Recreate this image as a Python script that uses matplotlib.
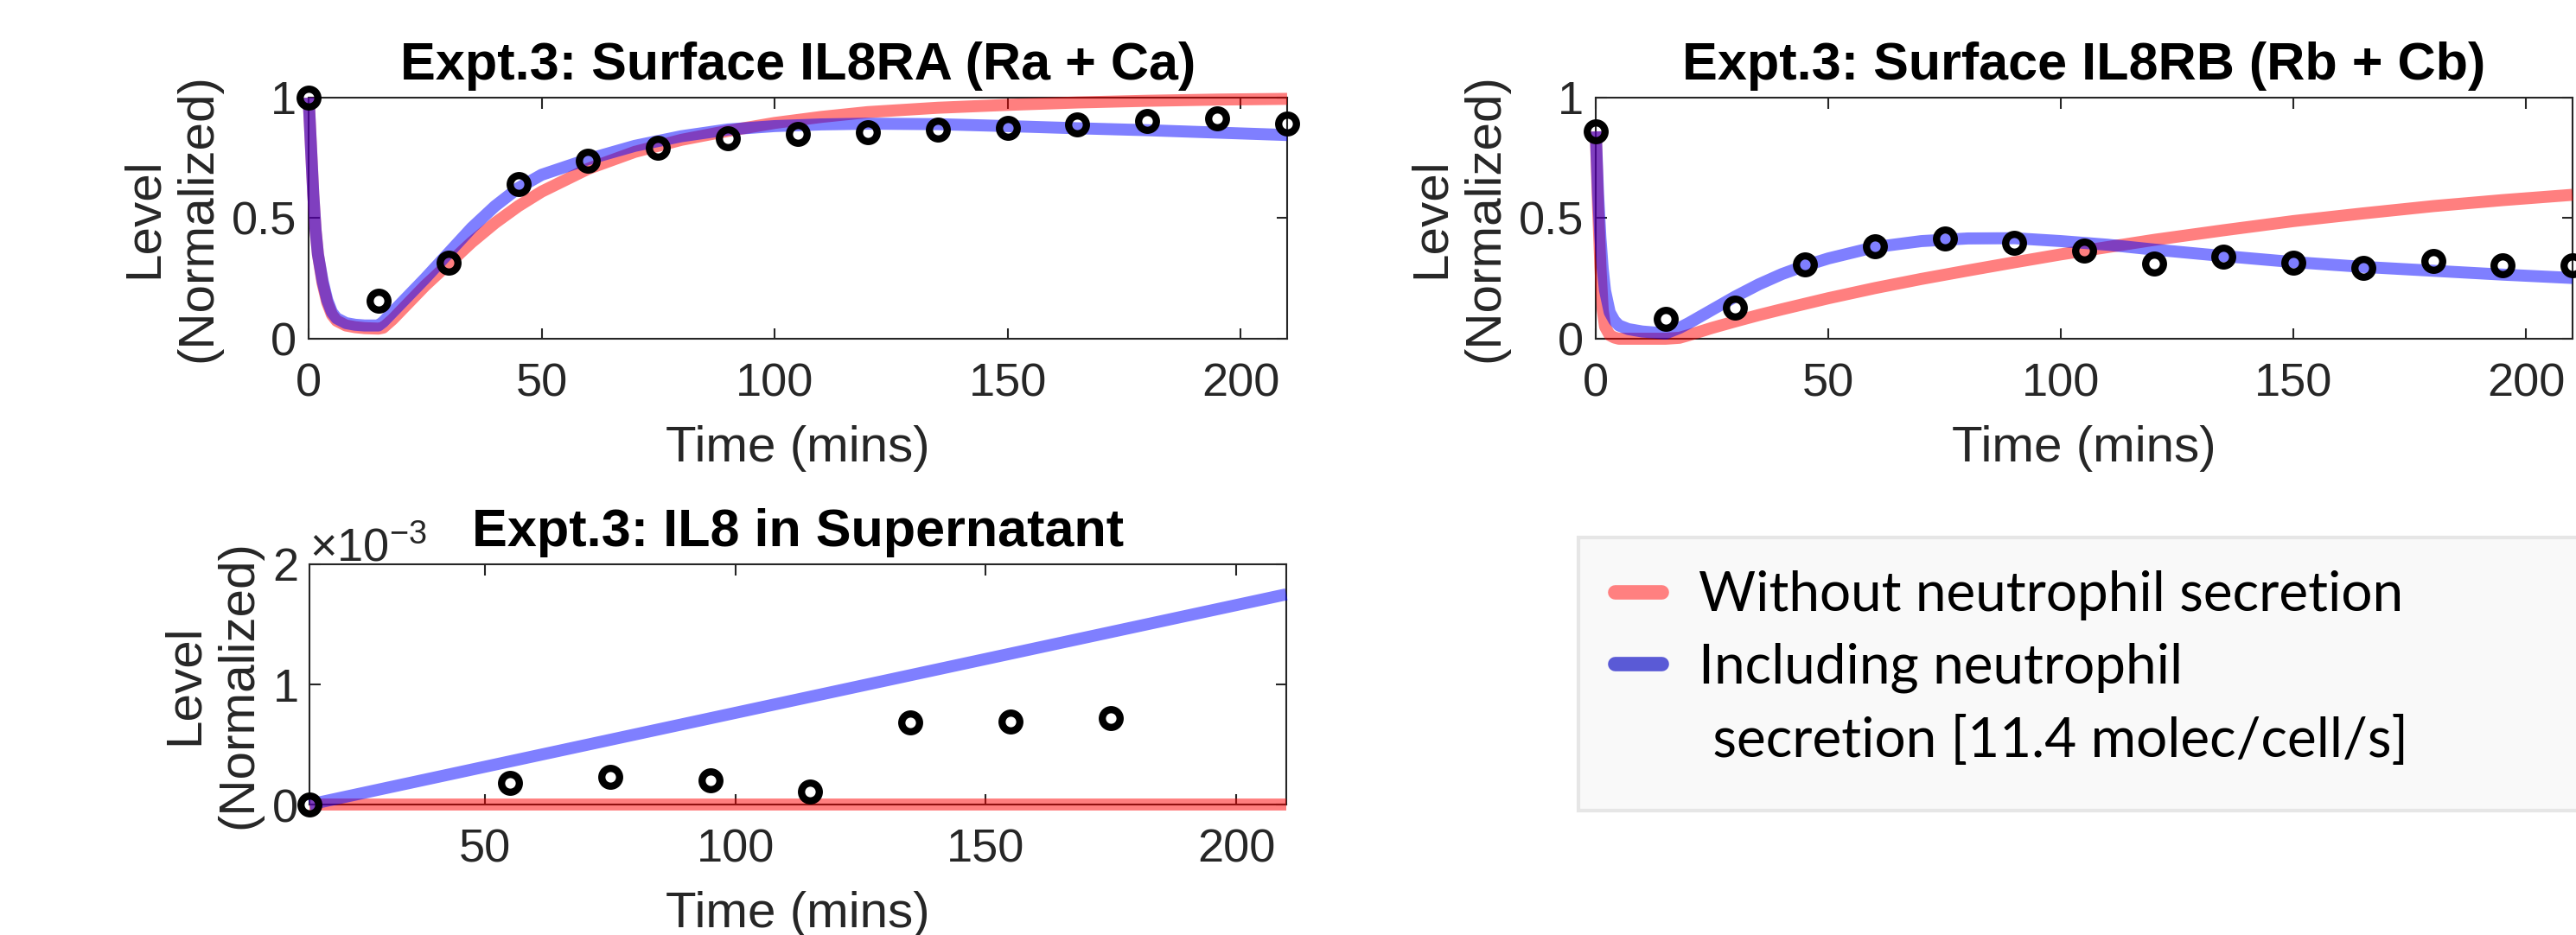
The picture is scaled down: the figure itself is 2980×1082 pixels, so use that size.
import matplotlib
matplotlib.use('Agg')
import matplotlib.pyplot as plt
from matplotlib.lines import Line2D
from matplotlib.patches import Rectangle
from matplotlib.ticker import ScalarFormatter

plt.rcParams['font.family'] = ['Liberation Sans', 'DejaVu Sans']
plt.rcParams['mathtext.fontset'] = 'custom'
plt.rcParams['mathtext.rm'] = 'Liberation Sans'
plt.rcParams['mathtext.it'] = 'Liberation Sans:italic'

RED = (1, 0, 0, 0.5)
BLUE = (0, 0, 1, 0.5)
DARK = '#262626'

# ---- Expt.3: surface IL8RA ----
ra_data_t = [0, 15, 30, 45, 60, 75, 90, 105, 120, 135, 150, 165, 180, 195, 210]
ra_data = [1.0, 0.156, 0.317, 0.640, 0.738, 0.793, 0.830, 0.848, 0.858, 0.869,
           0.876, 0.890, 0.902, 0.913, 0.892]

ra_t = [0, 0.5, 1, 1.5, 2, 3, 4, 5, 6, 8, 10, 12, 15, 16, 18, 20, 25, 30, 35, 40,
        45, 50, 60, 70, 80, 90, 100, 110, 120, 135, 150, 165, 180, 195, 210]
ra_without = [1.0, 0.80, 0.60, 0.45, 0.35, 0.23, 0.15, 0.10, 0.075, 0.055, 0.048,
              0.044, 0.042, 0.046, 0.08, 0.12, 0.22, 0.31, 0.40, 0.48,
              0.55, 0.61, 0.705, 0.775, 0.825, 0.862, 0.895, 0.92, 0.94, 0.958,
              0.97, 0.98, 0.987, 0.992, 0.995]
ra_with = [1.0, 0.80, 0.60, 0.45, 0.35, 0.24, 0.16, 0.11, 0.085, 0.065, 0.058,
           0.055, 0.055, 0.07, 0.11, 0.15, 0.25, 0.355, 0.46, 0.55,
           0.625, 0.68, 0.745, 0.80, 0.84, 0.868, 0.882, 0.889, 0.892, 0.89,
           0.882, 0.873, 0.865, 0.855, 0.845]

# ---- Expt.3: surface IL8RB ----
rb_data_t = [0, 15, 30, 45, 60, 75, 90, 105, 120, 135, 150, 165, 180, 195, 210]
rb_data = [0.862, 0.084, 0.128, 0.307, 0.383, 0.415, 0.397, 0.366, 0.311, 0.342,
           0.314, 0.293, 0.321, 0.303, 0.303]

rb_t = [0, 0.5, 1, 1.5, 2, 3, 4, 5, 7, 10, 15, 18, 20, 25, 30, 35, 40, 45, 50, 60,
        70, 80, 90, 100, 110, 120, 135, 150, 165, 180, 195, 210]
rb_without = [0.86, 0.55, 0.30, 0.12, 0.05, 0.015, 0.005, 0.0, 0.0, 0.0, 0.0, 0.004,
              0.015, 0.045, 0.072, 0.098, 0.122, 0.145, 0.168, 0.21,
              0.248, 0.283, 0.317, 0.35, 0.38, 0.41, 0.45, 0.488, 0.52, 0.55, 0.575, 0.597]
rb_with = [0.86, 0.60, 0.42, 0.29, 0.20, 0.11, 0.075, 0.055, 0.04, 0.03, 0.022, 0.045,
           0.065, 0.12, 0.175, 0.225, 0.268, 0.303, 0.333, 0.38,
           0.405, 0.416, 0.417, 0.405, 0.39, 0.37, 0.343, 0.318, 0.298, 0.282, 0.266, 0.252]

# ---- Expt.3: IL8 in supernatant ----
sup_data_t = [15, 55, 75, 95, 115, 135, 155, 175]
sup_data = [0.0, 0.18e-3, 0.23e-3, 0.20e-3, 0.11e-3, 0.68e-3, 0.69e-3, 0.72e-3]
sup_t = [15, 210]
sup_without = [0.0, 0.0]
sup_with = [0.0, 1.75e-3]

labels = ['Without neutrophil secretion', 'Including neutrophil',
          ' secretion [11.4 molec/cell/s]']

W, H = 2980, 1082
fig = plt.figure(figsize=(W / 100, H / 100), dpi=100)


def px_axes(l, t, r, b):
    return fig.add_axes([l / W, 1 - b / H, (r - l) / W, (b - t) / H])


def style(ax, title):
    ax.tick_params(direction='in', length=9, width=1.5, top=True, right=True,
                   labelsize=39, colors=DARK, pad=10)
    ax.tick_params(axis='x', pad=20)
    for s in ax.spines.values():
        s.set_linewidth(1.5)
        s.set_color(DARK)
    ax.set_title(title, fontsize=44, fontweight='bold', pad=15)
    ax.set_xlabel('Time (mins)', fontsize=42, color=DARK, labelpad=16)
    ax.set_ylabel('Level\n(Normalized)', fontsize=42, color=DARK, labelpad=8)


def draw(ax, t, without, with_, dt, d):
    ax.plot(t, without, color=RED, lw=10, zorder=3, clip_on=False,
            solid_capstyle='butt')
    ax.plot(t, with_, color=BLUE, lw=10, zorder=3, clip_on=False,
            solid_capstyle='butt')
    ax.plot(dt, d, 'o', ms=14.8, mfc='none', mec='black', mew=6, zorder=4,
            clip_on=False)


ax1 = px_axes(357, 113, 1489, 392)
draw(ax1, ra_t, ra_without, ra_with, ra_data_t, ra_data)
ax1.set_xlim(0, 210)
ax1.set_ylim(0, 1)
ax1.set_xticks([0, 50, 100, 150, 200])
ax1.set_yticks([0, 0.5, 1])
ax1.set_yticklabels(['0', '0.5', '1'])
style(ax1, 'Expt.3: Surface IL8RA (Ra + Ca)')

ax2 = px_axes(1846, 113, 2976, 392)
draw(ax2, rb_t, rb_without, rb_with, rb_data_t, rb_data)
ax2.set_xlim(0, 210)
ax2.set_ylim(0, 1)
ax2.set_xticks([0, 50, 100, 150, 200])
ax2.set_yticks([0, 0.5, 1])
ax2.set_yticklabels(['0', '0.5', '1'])
style(ax2, 'Expt.3: Surface IL8RB (Rb + Cb)')

ax3 = px_axes(358, 653, 1488, 931)
draw(ax3, sup_t, sup_without, sup_with, sup_data_t, sup_data)
ax3.set_xlim(15, 210)
ax3.set_ylim(0, 2e-3)
ax3.set_xticks([50, 100, 150, 200])
ax3.set_yticks([0, 1e-3, 2e-3])
fmt = ScalarFormatter(useMathText=True)
fmt.set_powerlimits((-2, 2))
ax3.yaxis.set_major_formatter(fmt)
ax3.yaxis.get_offset_text().set_fontsize(39)
ax3.yaxis.get_offset_text().set_color(DARK)
style(ax3, 'Expt.3: IL8 in Supernatant')

# legend panel
fig.add_artist(Rectangle((1826 / W, 1 - 938 / H), 1170 / W, 316 / H,
                         transform=fig.transFigure, facecolor='#F9F9F9',
                         edgecolor='#E6E6E6', lw=3))
handles = [Line2D([], [], color='#FF8080', lw=12, solid_capstyle='round'),
           Line2D([], [], color='#5A5AD6', lw=12, solid_capstyle='round'),
           Line2D([], [], color='none', lw=0)]
fig.legend(handles, labels, loc='upper left', bbox_to_anchor=(1868 / W, 1 - 660 / H),
           frameon=False, borderpad=0, borderaxespad=0, handlelength=0.85,
           handletextpad=0.67, labelspacing=0.4,
           prop={'family': 'Lato', 'size': 46})

fig.savefig('out.png', dpi=100)
